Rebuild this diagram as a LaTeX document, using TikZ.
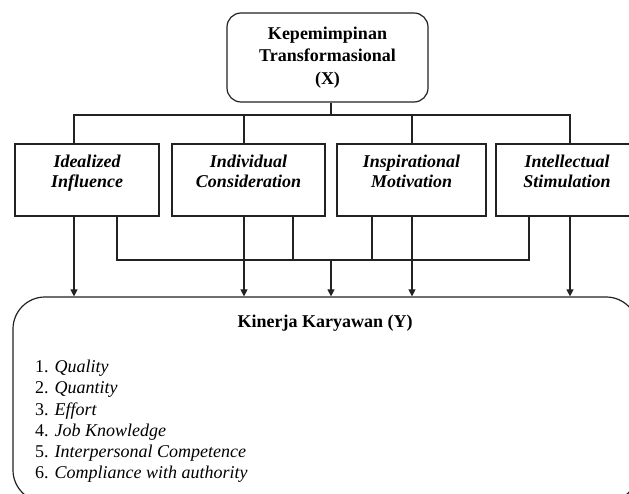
\documentclass[tikz,border=0pt]{standalone}
\usepackage{fontspec}
\setmainfont{Liberation Serif}
\usetikzlibrary{arrows.meta}
\definecolor{ink}{HTML}{222222}
\tikzset{
  line/.style={draw=ink, line width=1.2pt},
  arr/.style={line, -{Triangle[length=7pt,width=7pt]}},
  dimbox/.style={line, rectangle, minimum width=#1, minimum height=72pt, inner sep=0pt},
  boxtext/.style={anchor=north, align=center, inner sep=0pt, font=\fontsize{18}{20}\selectfont\bfseries\itshape},
}
\begin{document}
\begin{tikzpicture}[x=1pt,y=-1pt]
\useasboundingbox (0,0) rectangle (629,494);
\clip (0,0) rectangle (629,494);
\fill[white] (0,0) rectangle (629,494);
% top box
\node[line, rounded corners=14pt, minimum width=201pt, minimum height=89pt, inner sep=0pt,
      align=center, font=\fontsize{18}{22.5}\selectfont\bfseries] (x) at (327.5,57.5)
      {Kepemimpinan\\Transformasional\\(X)};
% dimension boxes
\node[dimbox=144pt] (b1) at (87,180) {};
\node[dimbox=153pt] (b2) at (248.5,180) {};
\node[dimbox=149pt] (b3) at (411.5,180) {};
\node[dimbox=136pt] (b4) at (564,180) {};
\node[boxtext] (t1) at (87,155) {Idealized\\Influence};
\node[boxtext] (t2) at (248.5,155) {Individual\\Consideration};
\node[boxtext] (t3) at (411.5,155) {Inspirational\\Motivation};
\node[boxtext] (t4) at (567,155) {Intellectual\\Stimulation};
% bottom box
\node[line, rounded corners=32pt, minimum width=625pt, minimum height=205pt, inner sep=0pt] (y) at (325.5,399.5) {};
\node[inner sep=0pt, font=\fontsize{18}{20}\selectfont\bfseries] (yt) at (325,323) {Kinerja Karyawan (Y)};
\node[anchor=north west, inner sep=0pt, align=left, font=\fontsize{18}{21.2}\selectfont] (list) at (35,360)
 {1. \textit{Quality}\\2. \textit{Quantity}\\3. \textit{Effort}\\4. \textit{Job Knowledge}\\5. \textit{Interpersonal Competence}\\6. \textit{Compliance with authority}};
% bus coordinates
\coordinate (bus1) at (331,115);
\coordinate (bus2) at (331,260);
% top connectors
\draw[line] ([xshift=3.5pt]x.south) -- (bus1);
\draw[line] ([xshift=-13pt]b1.north) -- ([xshift=-13pt]b1.north |- bus1) -- ([xshift=6pt]b4.north |- bus1) -- ([xshift=6pt]b4.north);
\draw[line] ([xshift=-4.5pt]b2.north) -- ([xshift=-4.5pt]b2.north |- bus1);
\draw[line] ([xshift=0.5pt]b3.north) -- ([xshift=0.5pt]b3.north |- bus1);
% direct arrows
\draw[arr] ([xshift=-13pt]b1.south) -- ([xshift=-13pt]b1.south |- y.north);
\draw[arr] ([xshift=-4.5pt]b2.south) -- ([xshift=-4.5pt]b2.south |- y.north);
\draw[arr] ([xshift=0.5pt]b3.south) -- ([xshift=0.5pt]b3.south |- y.north);
\draw[arr] ([xshift=6pt]b4.south) -- ([xshift=6pt]b4.south |- y.north);
% second bus
\draw[line] ([xshift=30pt]b1.south) -- ([xshift=30pt]b1.south |- bus2) -- ([xshift=-35pt]b4.south |- bus2) -- ([xshift=-35pt]b4.south);
\draw[line] ([xshift=44.5pt]b2.south) -- ([xshift=44.5pt]b2.south |- bus2);
\draw[line] ([xshift=-39.5pt]b3.south) -- ([xshift=-39.5pt]b3.south |- bus2);
\draw[arr] (bus2) -- (bus2 |- y.north);
\end{tikzpicture}
\end{document}
